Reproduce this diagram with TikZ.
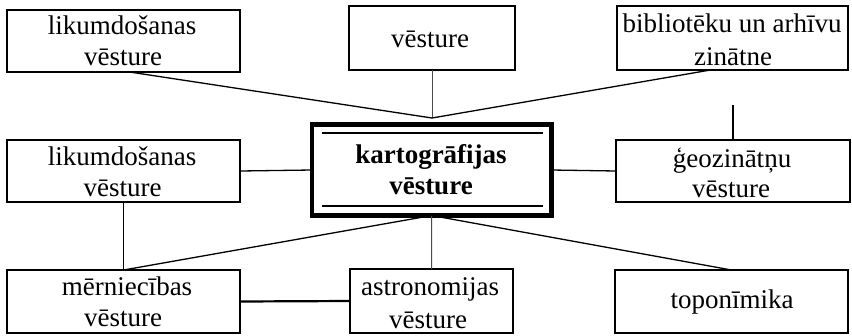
\documentclass[tikz,border=0pt]{standalone}
\usepackage{fontspec}
\setmainfont{Liberation Serif}
\begin{document}
\begin{tikzpicture}[x=1pt,y=-1pt,
  box/.style={draw, line width=1.4pt, inner sep=0pt, outer sep=0pt, rectangle},
  mainbox/.style={draw, line width=4.8pt, inner sep=0pt, outer sep=0pt, rectangle},
  txt/.style={anchor=base, inner sep=0pt, font=\fontsize{27}{31}\selectfont},
  btxt/.style={txt, font=\fontsize{27}{31}\selectfont\bfseries},
  conn/.style={line width=1.3pt},
  thinconn/.style={line width=1pt, black!70},
  rule/.style={line width=1.2pt}]
\useasboundingbox (0,0) rectangle (852,335);
% boxes
\node[box, minimum width=233pt, minimum height=62pt] (tl) at (123.6,41) {};
\node[box, minimum width=166pt, minimum height=64pt] (tc) at (432,38) {};
\node[box, minimum width=231pt, minimum height=64pt] (tr) at (732.5,38) {};
\node[box, minimum width=233pt, minimum height=62pt] (ml) at (123.6,171) {};
\node[mainbox, minimum width=239.5pt, minimum height=91pt] (c) at (431.75,170) {};
\node[box, minimum width=234pt, minimum height=62pt] (mr) at (733,171) {};
\node[box, minimum width=233pt, minimum height=63pt] (bl) at (123.6,301.5) {};
\node[box, minimum width=163pt, minimum height=64pt] (bc) at (431.5,301) {};
\node[box, minimum width=233pt, minimum height=63pt] (br) at (731.5,301.5) {};
% inner rules of the main box
\coordinate (r1a) at (322,133);
\coordinate (r1b) at (543,133);
\coordinate (r2a) at (322,206);
\coordinate (r2b) at (543,206);
\draw[rule] (r1a) -- (r1b);
\draw[rule] (r2a) -- (r2b);
% texts
\node[txt] (tla) at (122,34) {likumdošanas};
\node[txt] (tlb) at (123,65) {vēsture};
\node[txt] (tca) at (430,47) {vēsture};
\node[txt] (tra) at (732,32) {bibliotēku un arhīvu};
\node[txt] (trb) at (733,65) {zinātne};
\node[txt] (mla) at (122,165) {likumdošanas};
\node[txt] (mlb) at (122.5,196) {vēsture};
\node[btxt] (ca) at (431,163) {kartogrāfijas};
\node[btxt] (cb) at (431,194) {vēsture};
\node[txt] (mra) at (732,167) {ģeozinātņu};
\node[txt] (mrb) at (731,197) {vēsture};
\node[txt] (bla) at (127,295) {mērniecības};
\node[txt] (blb) at (123,326) {vēsture};
\node[txt] (bca) at (430,295) {astronomijas};
\node[txt] (bcb) at (428,328) {vēsture};
\node[txt] (bra) at (732,308) {toponīmika};
% connectors
\coordinate (meet) at (432,118);
\draw[conn] ([xshift=6pt]tl.south) -- (meet);
\draw[thinconn] (tc.south) -- (meet);
\draw[conn] ([xshift=-22pt]tr.south) -- (meet);
\coordinate (gtop) at (733,105);
\draw[conn] (gtop) -- (mr.north);
\draw[conn] (ml.east) -- (c.west);
\draw[conn] (c.east) -- (mr.west);
\draw[conn] (ml.south) -- (bl.north);
\draw[conn] (c.south) -- (bl.north);
\draw[thinconn] (c.south) -- (bc.north);
\draw[conn] (c.south) -- (br.north);
\draw[line width=2.2pt] (bl.east) -- (bc.west);
\end{tikzpicture}
\end{document}
